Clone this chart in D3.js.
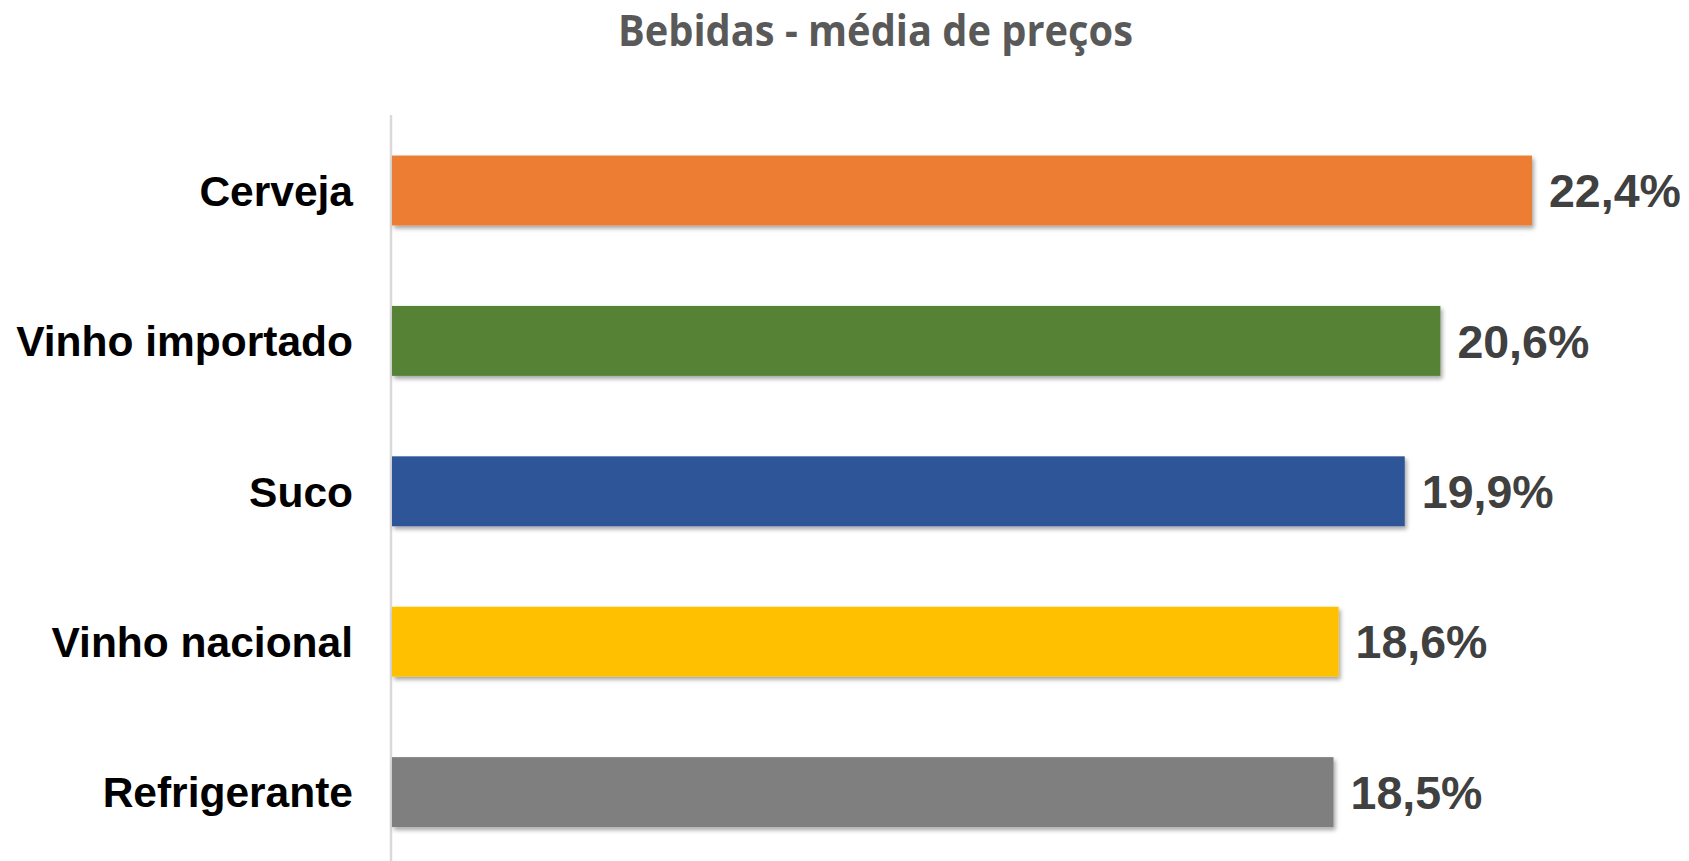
<!DOCTYPE html>
<html>
<head>
<meta charset="utf-8">
<script src="https://cdn.jsdelivr.net/npm/d3@7"></script>
<style>
  html, body { margin: 0; padding: 0; background: #ffffff; }
  svg { display: block; }
</style>
</head>
<body>
<svg id="chart" width="1689" height="861"></svg>
<script>
const title = "Bebidas - média de preços";
const categories = ["Cerveja", "Vinho importado", "Suco", "Vinho nacional", "Refrigerante"];
const values = [22.4, 20.6, 19.9, 18.6, 18.5];
const valueLabels = ["22,4%", "20,6%", "19,9%", "18,6%", "18,5%"];
const colors = ["#ED7D31", "#548235", "#2F5597", "#FFC000", "#7F7F7F"];

const W = 1689, H = 861;
const svg = d3.select("#chart");

const defs = svg.append("defs");
const f = defs.append("filter").attr("id", "shadow")
  .attr("x", "-5%").attr("y", "-20%").attr("width", "110%").attr("height", "160%");
f.append("feDropShadow").attr("dx", 2).attr("dy", 3).attr("stdDeviation", 2.2)
  .attr("flood-color", "#000").attr("flood-opacity", 0.35);

const x = d3.scaleLinear().domain([0, 22.4]).range([392, 1532]);
const y = d3.scaleBand().domain(categories).range([115.3, 867.3]).paddingInner(0.535).paddingOuter(0.2675);

// axis line
svg.append("line")
  .attr("x1", 391).attr("x2", 391).attr("y1", 115).attr("y2", H)
  .attr("stroke", "#D9D9D9").attr("stroke-width", 2.5);

// bars
svg.append("g").selectAll("rect").data(categories).join("rect")
  .attr("x", x(0))
  .attr("y", d => y(d))
  .attr("width", (d, i) => x(values[i]) - x(0))
  .attr("height", y.bandwidth())
  .attr("fill", (d, i) => colors[i])
  .attr("filter", "url(#shadow)");

// category labels
svg.append("g").selectAll("text").data(categories).join("text")
  .attr("x", 353)
  .attr("y", d => y(d) + y.bandwidth() / 2)
  .attr("dy", "0.36em")
  .attr("text-anchor", "end")
  .attr("font-family", "Liberation Sans, Arial, sans-serif")
  .attr("font-weight", "bold")
  .attr("font-size", 42.5)
  .attr("fill", "#000")
  .text(d => d);

// value labels
svg.append("g").selectAll("text").data(categories).join("text")
  .attr("x", (d, i) => x(values[i]) + 17)
  .attr("y", d => y(d) + y.bandwidth() / 2)
  .attr("dy", "0.36em")
  .attr("font-family", "Liberation Sans, Arial, sans-serif")
  .attr("font-weight", "bold")
  .attr("font-size", 46.5)
  .attr("fill", "#404040")
  .text((d, i) => valueLabels[i]);

// title
svg.append("text")
  .attr("x", 875.5).attr("y", 46)
  .attr("text-anchor", "middle")
  .attr("font-family", "Open Sans, sans-serif")
  .attr("font-weight", "bold")
  .attr("font-size", 43)
  .attr("fill", "#595959")
  .attr("textLength", 515)
  .attr("lengthAdjust", "spacingAndGlyphs")
  .text(title);
</script>
</body>
</html>
